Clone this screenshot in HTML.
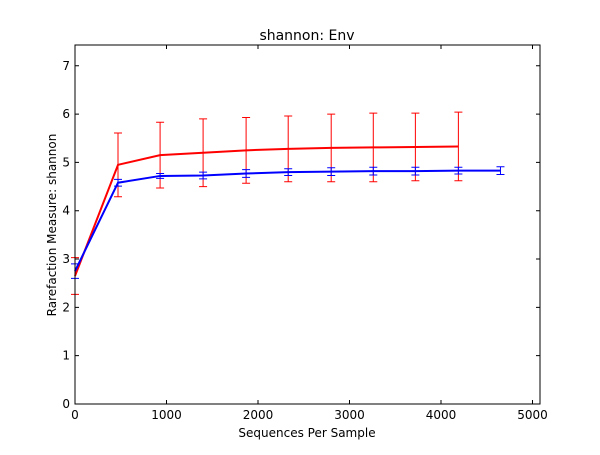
<!DOCTYPE html>
<html><head><meta charset="utf-8"><style>
body{margin:0;background:#fff;}
svg text{font-family:"DejaVu Sans","Liberation Sans",sans-serif;fill:#000;}
</style></head><body>
<svg id="chart" width="600" height="450" xmlns="http://www.w3.org/2000/svg">
<rect width="600" height="450" fill="#fff"/>
<text x="307" y="40" font-size="14" text-anchor="middle">shannon: Env</text>
<text x="307" y="437" font-size="12" text-anchor="middle">Sequences Per Sample</text>
<text transform="translate(56,225) rotate(-90)" font-size="12" text-anchor="middle">Rarefaction Measure: shannon</text>
<g id="plot"></g>
</svg>
<script>
const xTicks=[0,1000,2000,3000,4000,5000];
const yTicks=[0,1,2,3,4,5,6,7];
const redX=[0,470,930,1400,1870,2330,2800,3260,3720,4190];
const redY=[2.65,4.95,5.15,5.2,5.25,5.28,5.3,5.31,5.32,5.33];
const redErr=[0.38,0.66,0.68,0.7,0.68,0.68,0.7,0.71,0.7,0.71];
const blueX=[0,470,930,1400,1870,2330,2800,3260,3720,4190,4650];
const blueY=[2.75,4.58,4.72,4.73,4.77,4.8,4.81,4.82,4.82,4.83,4.83];
const blueErr=[0.15,0.07,0.05,0.07,0.08,0.07,0.08,0.08,0.08,0.07,0.08];
const L=75,R=540,T=45,B=404,XMAX=5082,YMAX=7.43;
const sx=v=>L+v/XMAX*(R-L), sy=v=>B-v/YMAX*(B-T);
const NS='http://www.w3.org/2000/svg';
const g=document.getElementById('plot');
function mk(t,a){const e=document.createElementNS(NS,t);for(const k in a)e.setAttribute(k,a[k]);g.appendChild(e);return e;}
function series(xs,ys,es,color,name){
  xs.forEach((x,i)=>{
    const px=sx(x),lo=sy(ys[i]-es[i]),hi=sy(ys[i]+es[i]);
    const eb=mk('path',{d:`M${px},${lo}V${hi}M${px-4},${lo}H${px+4}M${px-4},${hi}H${px+4}`,stroke:color,'stroke-width':1,fill:'none'});
    
    
  });
  const ln=mk('polyline',{points:xs.map((x,i)=>sx(x)+','+sy(ys[i])).join(' '),stroke:color,'stroke-width':2,fill:'none'});
  
  
}
series(redX,redY,redErr,'#f00','red-series');
series(blueX,blueY,blueErr,'#00f','blue-series');
const fr=mk('rect',{x:L,y:T,width:R-L,height:B-T,fill:'none',stroke:'#000','stroke-width':1});


xTicks.forEach(v=>{
  const p=sx(v);
  const t=mk('path',{d:`M${p},${B}v-4M${p},${T}v4`,stroke:'#000'});
  
  
  const tx=mk('text',{x:p,y:B+15,'font-size':12,'text-anchor':'middle'});
  tx.textContent=v;
  
  
});
yTicks.forEach(v=>{
  const p=sy(v);
  const t=mk('path',{d:`M${L},${p}h4M${R},${p}h-4`,stroke:'#000'});
  
  
  const tx=mk('text',{x:L-5,y:p+4,'font-size':12,'text-anchor':'end'});
  tx.textContent=v;
  
  
});
</script>
</body></html>
